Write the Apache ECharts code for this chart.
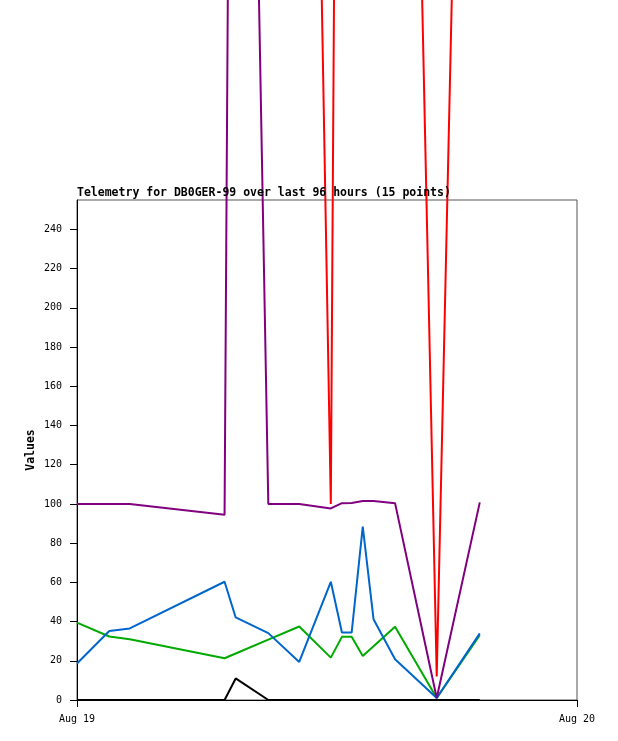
<!DOCTYPE html>
<html>
<head>
<meta charset="utf-8">
<script src="https://cdn.jsdelivr.net/npm/echarts@6/dist/echarts.min.js"></script>
<style>
html,body{margin:0;padding:0;background:#fff;}
#chart{width:618px;height:741px;}
</style>
</head>
<body>
<div id="chart"></div>
<script>
// sample times on Aug 19 (HH:MM)
var times = ['00:00','01:33','02:32','07:05','07:37','09:11','10:40','12:11','12:43','13:11','13:43','14:14','15:16','17:16','19:20'];
var seriesBlack  = [0, 0, 0, 0, 11, 0, 0, 0, 0, 0, 0, 0, 0, 0, 0];
var seriesGreen  = [39.5, 32.4, 31, 21.3, 23.7, 30.8, 37.5, 21.6, 32.2, 32.2, 22.5, 27.4, 37.3, 1, 33];
var seriesBlue   = [18.6, 35.2, 36.5, 60.3, 42.1, 34.1, 19.4, 60.3, 34.4, 34.4, 88.4, 41.2, 20.8, 1, 34];
var seriesRed    = [1000, 1000, 1000, 1000, 1000, 1000, 1000, 100, 1000, 1000, 1000, 1000, 1000, 12, 1000];
var seriesPurple = [100, 100, 100, 94.5, 1000, 100, 100, 97.7, 100.4, 100.5, 101.5, 101.5, 100.4, 1, 100.8];
var yTicks = [0, 20, 40, 60, 80, 100, 120, 140, 160, 180, 200, 220, 240];
var xTickLabels = ['Aug 19', 'Aug 20'];
var titleText = 'Telemetry for DB0GER-99 over last 96 hours (15 points)';
var yName = 'Values';

function toHours(t){ var p = t.split(':'); return +p[0] + (+p[1]) / 60; }
var xs = times.map(toHours);
function pairs(vals){ return vals.map(function(v, i){ return [xs[i], v]; }); }

var FONT = '"DejaVu Sans Mono", "Liberation Mono", monospace';
function mkSeries(name, vals, color){
  return {
    name: name, type: 'line', data: pairs(vals), clip: false,
    showSymbol: false, symbol: 'none', animation: false,
    lineStyle: { color: color, width: 2 }, itemStyle: { color: color }
  };
}

var chart = echarts.init(document.getElementById('chart'), null, { renderer: 'canvas' });
chart.setOption({
  animation: false,
  backgroundColor: '#ffffff',
  title: {
    text: titleText, left: 77, top: 187, padding: 0,
    textStyle: { fontFamily: FONT, fontSize: 11.5, fontWeight: 'bold', color: '#000' }
  },
  grid: { left: 77, right: 41, top: 200, bottom: 41, show: true, borderColor: '#555', borderWidth: 1, containLabel: false },
  xAxis: {
    type: 'value', min: 0, max: 24, interval: 24,
    axisLine: { show: true, lineStyle: { color: '#000', width: 1 } },
    axisTick: { show: true, length: 7, lineStyle: { color: '#000' } },
    axisLabel: {
      margin: 14, fontFamily: FONT, fontSize: 10, color: '#000',
      formatter: function(v){ return v === 0 ? xTickLabels[0] : xTickLabels[1]; }
    },
    splitLine: { show: false }
  },
  yAxis: {
    type: 'value', min: 0, max: 255,
    name: yName, nameLocation: 'middle', nameGap: 40, nameRotate: 90, nameMoveOverlap: false,
    nameTextStyle: { fontFamily: FONT, fontSize: 11.5, fontWeight: 'bold', color: '#000' },
    axisLine: { show: true, lineStyle: { color: '#000', width: 1 } },
    axisTick: { show: true, length: 7, lineStyle: { color: '#000' }, customValues: yTicks },
    axisLabel: { margin: 15, fontFamily: FONT, fontSize: 10, color: '#000', customValues: yTicks },
    splitLine: { show: false }
  },
  series: [
    mkSeries('black', seriesBlack, '#000000'),
    mkSeries('green', seriesGreen, '#00aa00'),
    mkSeries('blue', seriesBlue, '#0066cc'),
    mkSeries('red', seriesRed, '#ff0000'),
    mkSeries('purple', seriesPurple, '#800080')
  ]
});
</script>
</body>
</html>
